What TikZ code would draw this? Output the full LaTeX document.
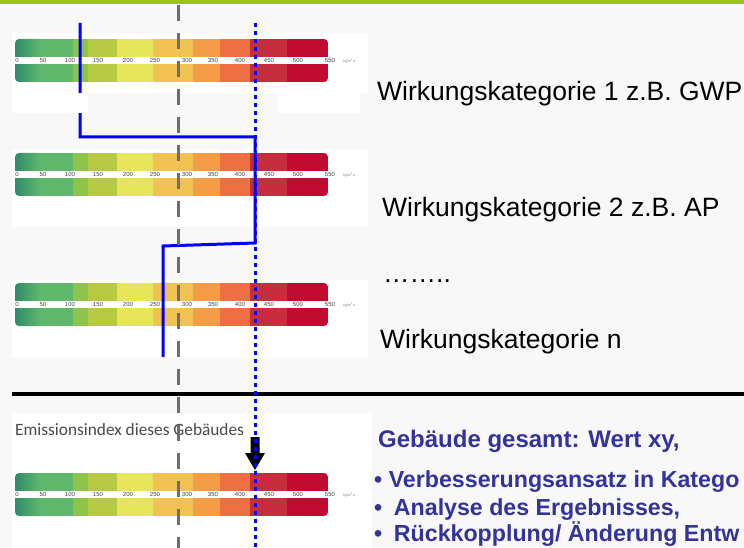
\documentclass[tikz,border=0pt]{standalone}
\usepackage{fontspec}
\setmainfont{Liberation Sans}
\newfontfamily\carl{Carlito}
\definecolor{bgc}{HTML}{F8F8F8}
\definecolor{topgreen}{HTML}{9CC31A}
\definecolor{ca}{HTML}{2E8C68}
\definecolor{cb}{HTML}{5FB86C}
\definecolor{cc}{HTML}{8EC44C}
\definecolor{cd}{HTML}{B7C942}
\definecolor{ce}{HTML}{E6E55C}
\definecolor{cf}{HTML}{F1C151}
\definecolor{cg}{HTML}{F59C47}
\definecolor{ch}{HTML}{EE6F43}
\definecolor{ci}{HTML}{C62D3D}
\definecolor{cj}{HTML}{BE0B2F}
\definecolor{dashgray}{HTML}{6E6E6E}
\definecolor{txtblue}{HTML}{333399}
\definecolor{emigray}{HTML}{4A4A4A}
\newcommand\emibar[1]{%
  \begin{scope}[shift={(0,#1)}]
    \begin{scope}
      \clip[rounded corners=4pt] (15,0) rectangle (328,43);
      \shade[left color=ca,right color=cb] (15,0) rectangle (40,43);
      \fill[cb] (40,0) rectangle (73,43);
      \fill[cc] (73,0) rectangle (88,43);
      \fill[cd] (88,0) rectangle (117,43);
      \fill[ce] (117,0) rectangle (153,43);
      \fill[cf] (153,0) rectangle (193,43);
      \fill[cg] (193,0) rectangle (220,43);
      \fill[ch] (220,0) rectangle (250,43);
      \fill[ci] (250,0) rectangle (287,43);
      \fill[cj] (287,0) rectangle (328,43);
    \end{scope}
    \fill[white] (15,18) rectangle (330,25);
    \foreach \v/\p in {0/17,50/43,100/70,150/98,200/128,250/155,300/187,350/213,400/240,450/269,500/298,550/330}
      \node[ticklab] at (\p,21.5) {\v};
    \node[unitlab] at (349,22) {kg/m\textsuperscript{2}a};
  \end{scope}}
\begin{document}
\begin{tikzpicture}[x=1pt,y=-1pt,
  ticklab/.style={font=\fontsize{6}{6}\selectfont, text=darkgray, inner sep=0pt},
  unitlab/.style={font=\fontsize{3.5}{4}\selectfont, text=gray, inner sep=0pt},
  cattext/.style={font=\fontsize{26.5}{30}\selectfont, anchor=base west, inner sep=0pt},
  bluetext/.style={font=\bfseries\fontsize{24}{28}\selectfont, text=txtblue, anchor=base west, inner sep=0pt},
  bullettext/.style={bluetext, font=\bfseries\fontsize{23.2}{28}\selectfont},
  whitebox/.style={fill=white},
  bluesolid/.style={draw=blue, line width=3pt},
  bluedot/.style={draw=blue, line width=3pt, dash pattern=on 4pt off 4pt},
  graydash/.style={draw=dashgray, line width=3pt, dash pattern=on 16pt off 12pt}]
\useasboundingbox (0,0) rectangle (744,548);
\clip (0,0) rectangle (744,548);
\fill[bgc] (0,0) rectangle (744,548);
\fill[topgreen] (0,0) rectangle (744,4);
% white image boxes
\fill[whitebox] (12,33) rectangle (368,93);
\fill[whitebox] (12,150) rectangle (368,227);
\fill[whitebox] (12,280) rectangle (368,358);
\fill[whitebox] (12,413) rectangle (372,548);
% bars
\emibar{39}
\emibar{153}
\emibar{283}
\emibar{473}
\node[font=\carl\fontsize{17.3}{19}\selectfont, text=emigray, anchor=base west, inner sep=0pt] (emi) at (15,435) {Emissionsindex dieses Gebäudes};
% blue solid path
\coordinate (p0) at (80,23);
\coordinate (p1) at (80,137);
\coordinate (p2) at (255,137);
\coordinate (p3) at (255,243);
\coordinate (p4) at (163,246);
\coordinate (p5) at (163,357);
\draw[bluesolid] (p0) -- (p1) -- (p2) -- (p3) -- (p4) -- (p5);
% white patches of first image
\fill[whitebox] (12,93) rectangle (88,113);
\fill[whitebox] (277,93) rectangle (360,113);
% separator
\coordinate (s0) at (12,394);
\coordinate (s1) at (744,394);
\draw[line width=4pt] (s0) -- (s1);
% gray dashed
\coordinate (g0) at (178,5);
\coordinate (g1) at (178,548);
\draw[graydash] (g0) -- (g1);
% black arrow
\fill[black] (250.5,437) -- (259.5,437) -- (259.5,453) -- (265,453) -- (255,470) -- (245,453) -- (250.5,453) -- cycle;
% blue dotted
\coordinate (d0) at (255,23);
\coordinate (d1) at (255,548);
\draw[bluedot] (d0) -- (d1);
% texts
\node[cattext] (t1) at (377,101) {Wirkungskategorie 1 z.B. GWP};
\node[cattext] (t2) at (382,217) {Wirkungskategorie 2 z.B. AP};
\node[cattext] (t3) at (383,282) {……..};
\node[cattext] (t4) at (380,348) {Wirkungskategorie n};
\node[bluetext] (b0) at (378,447) {Gebäude gesamt: Wert xy,};
\node[bullettext] (b1) at (374,487) {• Verbesserungsansatz in Katego};
\node[bullettext] (b2) at (374,515) {•\hspace{0.5em}Analyse des Ergebnisses,};
\node[bullettext] (b3) at (374,541) {•\hspace{0.5em}Rückkopplung/ Änderung Entw};
\end{tikzpicture}
\end{document}
